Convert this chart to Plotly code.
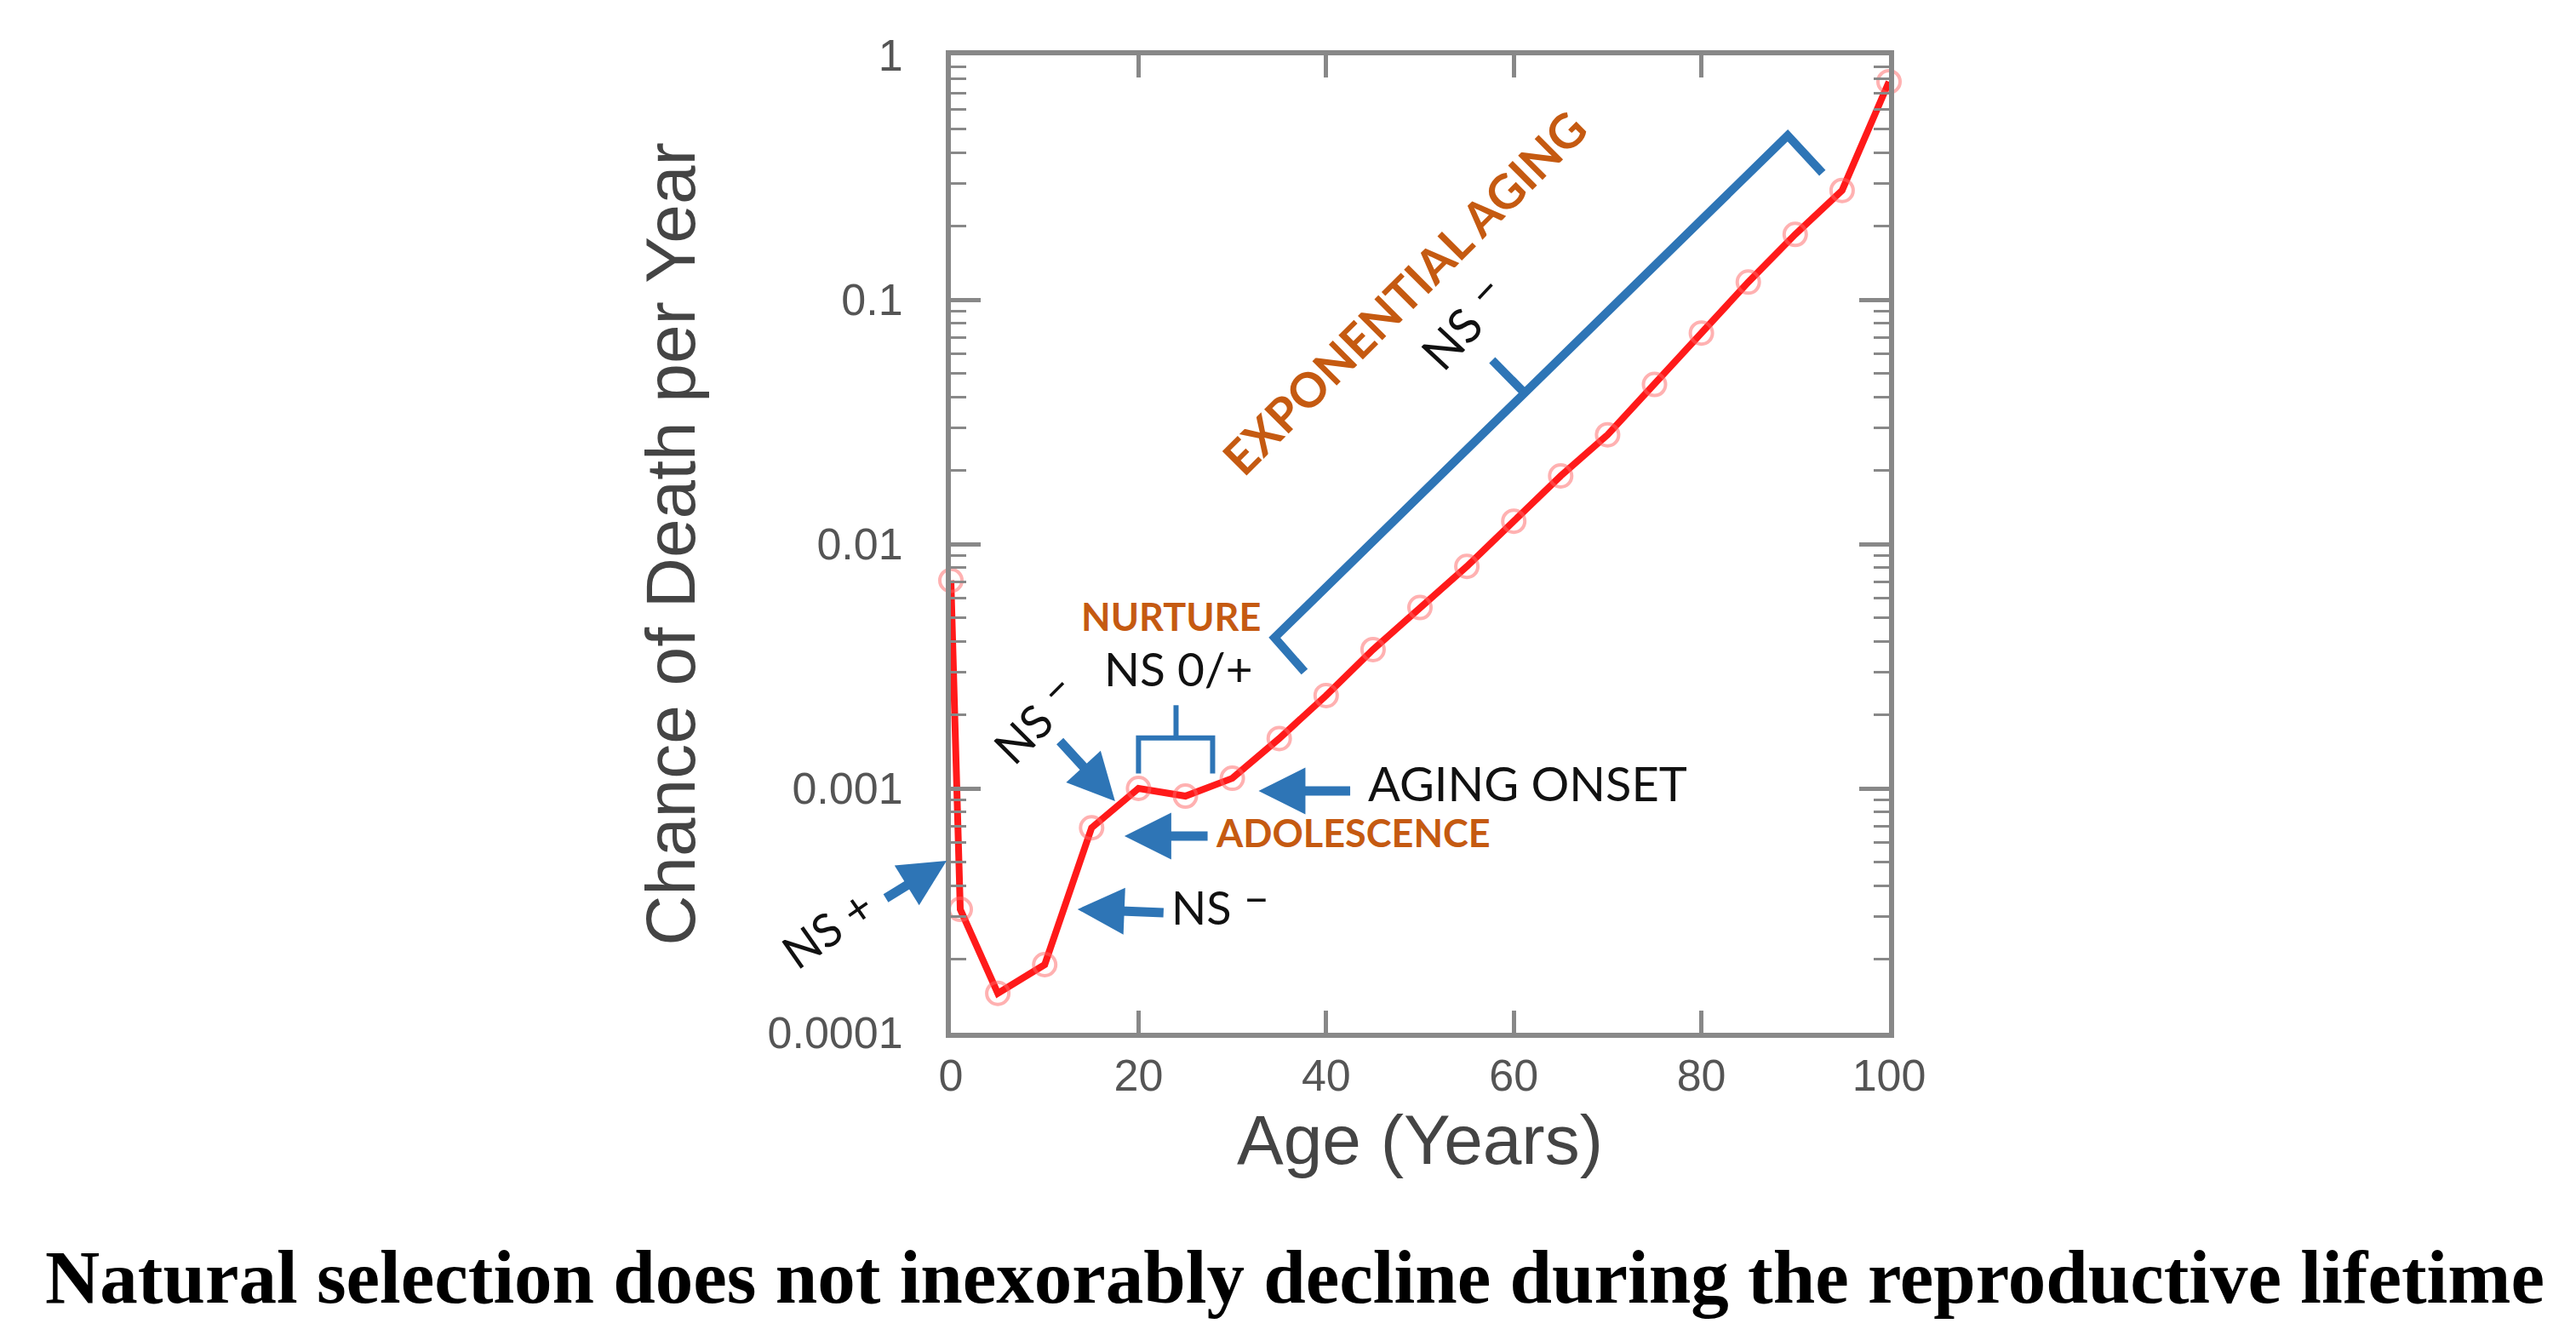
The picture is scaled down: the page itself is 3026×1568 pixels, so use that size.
import math
import plotly.graph_objects as go

# age (years) and annual chance of death
ages = [0, 1, 5, 10, 15, 20, 25, 30, 35, 40, 45, 50, 55, 60, 65, 70, 75, 80, 85, 90, 95, 100]
death_rate = [0.0071, 0.00032, 0.000145, 0.00019, 0.00069, 0.001, 0.00093, 0.0011, 0.0016,
              0.0024, 0.0037, 0.0055, 0.0081, 0.0124, 0.019, 0.028, 0.045, 0.073, 0.118,
              0.185, 0.28, 0.78]

x_ticks = [0, 20, 40, 60, 80, 100]
y_ticks = [0.0001, 0.001, 0.01, 0.1, 1]
y_tick_text = ['0.0001', '0.001', '0.01', '0.1', '1']
y_minor = [m * 10 ** k for k in range(-4, 0) for m in range(2, 10)]

# blue brackets (age, chance of death)
big_bracket_x = [37.7, 34.5, 89.2, 92.9]
big_bracket_y = [0.0030, 0.00414, 0.470, 0.330]
big_tick_x = [61.1, 57.7]
big_tick_y = [0.0417, 0.0566]
small_bracket_x = [20.0, 20.0, 27.9, 27.9]
small_bracket_y = [0.00115, 0.00161, 0.00161, 0.00115]
small_tick_x = [24.0, 24.0]
small_tick_y = [0.00161, 0.00219]

# arrows inside the plot: (head age, head value, tail age, tail value)
arrows = [
    (17.5, 0.000887, 11.5, 0.00158),      # NS - (upper)
    (18.5, 0.000638, 27.5, 0.000638),     # adolescence
    (13.5, 0.00032, 22.8, 0.00031),       # NS - (lower)
    (32.8, 0.000977, 42.7, 0.000977),     # aging onset
]

BLUE = '#2e75b6'
ORANGE = '#c55a11'
INK = '#111111'
GREY = '#555555'
NS_MINUS = 'NS <span style="baseline-shift:13px">–</span>'

fig = go.Figure()

fig.add_trace(go.Scatter(
    x=ages, y=death_rate, mode='lines+markers', cliponaxis=False,
    line=dict(color='#ff1a1a', width=8),
    marker=dict(symbol='circle-open', size=26, color='rgba(255,100,100,0.5)',
                line=dict(width=4, color='rgba(255,100,100,0.5)')),
    showlegend=False))

for bx, by, w in [(big_bracket_x, big_bracket_y, 10), (big_tick_x, big_tick_y, 10),
                  (small_bracket_x, small_bracket_y, 6), (small_tick_x, small_tick_y, 6)]:
    fig.add_trace(go.Scatter(x=bx, y=by, mode='lines', showlegend=False,
                             line=dict(color=BLUE, width=w)))

annotations = []
for hx, hy, tx, ty in arrows:
    annotations.append(dict(
        x=hx, y=math.log10(hy), ax=tx, ay=math.log10(ty),
        xref='x', yref='y', axref='x', ayref='y',
        text='', showarrow=True, arrowhead=2, arrowsize=1.0,
        arrowwidth=11, arrowcolor=BLUE, standoff=0, startstandoff=0))

# NS + arrow sits on the left axis, so place it in paper units
annotations.append(dict(
    x=-0.0045, y=0.176, xref='paper', yref='paper', ax=-73, ay=45,
    text='', showarrow=True, arrowhead=2, arrowsize=1.0,
    arrowwidth=11, arrowcolor=BLUE, standoff=0, startstandoff=0))


def label(txt, x, y, size, color, angle=0, bold=False, ref='data'):
    annotations.append(dict(
        x=x, y=math.log10(y) if ref == 'data' else y,
        xref='x' if ref == 'data' else 'paper', yref='y' if ref == 'data' else 'paper',
        text=txt, showarrow=False,
        textangle=angle, xanchor='center', yanchor='middle',
        font=dict(family='Lato', size=size, color=color,
                  weight='bold' if bold else 'normal')))


label('EXPONENTIAL AGING', 48.3, 0.107, 56, ORANGE, angle=-45, bold=True)
label(NS_MINUS, 54.4, 0.083, 56, INK, angle=-47)
label('NURTURE', 23.5, 0.00505, 45, ORANGE, bold=True)
label('NS 0/+', 24.3, 0.0031, 55, INK)
label(NS_MINUS, 8.7, 0.00198, 54, INK, angle=-45)
label('AGING ONSET', 61.5, 0.00105, 56, INK)
label('ADOLESCENCE', 42.9, 0.00066, 45, ORANGE, bold=True)
label(NS_MINUS, 28.8, 0.000345, 54, INK)
label('NS +', -0.1316, 0.107, 54, INK, angle=-35, ref='paper')

annotations.append(dict(
    x=(1513 - 1109) / 1102, y=(1205 - 1492) / 1148, xref='paper', yref='paper',
    text='<b>Natural selection does not inexorably decline during the reproductive lifetime</b>',
    showarrow=False, xanchor='center', yanchor='middle',
    font=dict(family='Liberation Serif', size=89, color='#000000')))

axis_common = dict(
    showline=True, linecolor='#888888', linewidth=6, mirror='ticks',
    ticks='inside', tickcolor='#888888', tickwidth=5,
    showgrid=False, zeroline=False,
    tickfont=dict(family='Liberation Sans', size=52, color=GREY),
)

fig.update_layout(
    width=3026, height=1568,
    paper_bgcolor='white', plot_bgcolor='white',
    margin=dict(l=1109, r=815, t=57, b=363, pad=0),
    annotations=annotations,
    xaxis=dict(range=[0, 100], tickvals=x_ticks, ticklen=26,
               title=dict(text='Age (Years)', standoff=20,
                          font=dict(family='Liberation Sans', size=82, color='#444444')),
               **axis_common),
    yaxis=dict(type='log', range=[-4, 0], ticklen=35,
               tickvals=y_ticks, ticktext=y_tick_text,
               minor=dict(tickvals=y_minor, ticks='inside', ticklen=18,
                          tickcolor='#888888', tickwidth=3),
               ticklabelstandoff=40,
               title=dict(text='Chance of Death per Year', standoff=60,
                          font=dict(family='Liberation Sans', size=82, color='#444444')),
               **axis_common),
)

fig.write_html("out.html")
